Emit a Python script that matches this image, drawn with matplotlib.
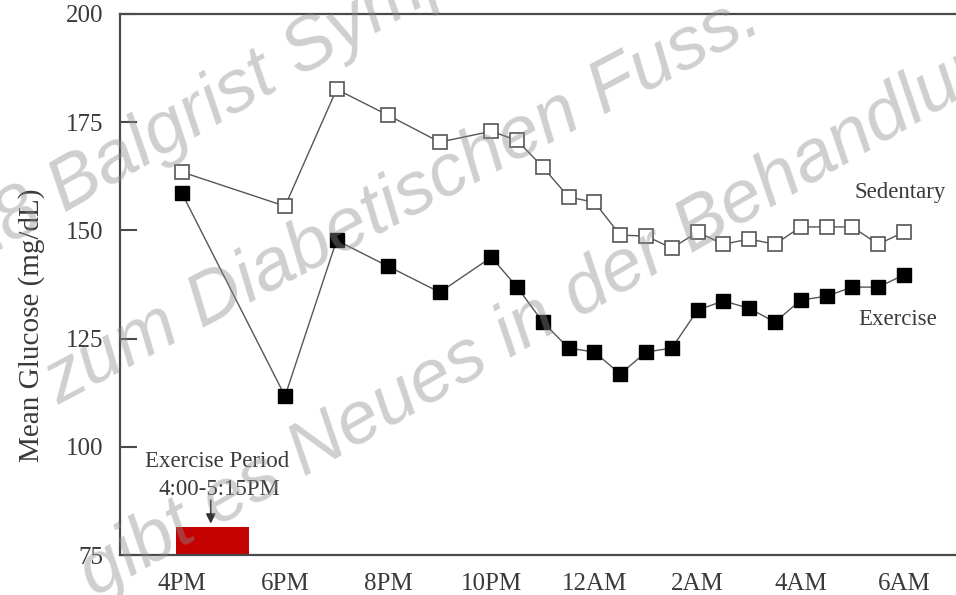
import matplotlib
matplotlib.use("Agg")
import matplotlib.pyplot as plt
from matplotlib.patches import Rectangle

# hours after 4PM
hours = [0, 2, 3, 4, 5, 6, 6.5, 7, 7.5, 8, 8.5, 9, 9.5, 10, 10.5, 11, 11.5, 12, 12.5, 13, 13.5, 14]
sedentary = [163.5, 155.6, 182.6, 176.6, 170.4, 172.9, 170.8, 164.6, 157.7, 156.5, 148.9, 148.7,
             145.9, 149.6, 146.8, 148.0, 146.8, 150.8, 150.8, 150.8, 146.8, 149.6]
exercise = [158.6, 111.7, 147.7, 141.7, 135.7, 143.8, 136.9, 128.8, 122.8, 121.9, 116.8, 121.9,
            122.8, 131.6, 133.7, 132.0, 128.8, 133.9, 134.8, 136.9, 136.9, 139.7]

tick_hours = [0, 2, 4, 6, 8, 10, 12, 14]
tick_labels = ["4PM", "6PM", "8PM", "10PM", "12AM", "2AM", "4AM", "6AM"]
y_ticks = [75, 100, 125, 150, 175, 200]

exercise_period = (0.0, 1.25)   # 4:00 - 5:15PM

watermark = ["2018 Balgrist Symposium",
             "zum Diabetischen Fuss.",
             "gibt es Neues in der Behandlung"]

plt.rcParams['font.family'] = ['Liberation Serif', 'DejaVu Serif']
txt = '#3a3a3a'
ax_col = '#4a4a4a'

fig = plt.figure(figsize=(9.56, 5.95), dpi=100)
ax = fig.add_axes([120 / 956, 1 - 555 / 595, 1 - 120 / 956, (555 - 14) / 595])

ax.plot(hours, sedentary, color='#555555', lw=1.0, marker='s', markersize=10,
        markerfacecolor='white', markeredgecolor='#555555', markeredgewidth=1.2, zorder=3)
ax.plot(hours, exercise, color='#555555', lw=1.0, marker='s', markersize=10,
        markerfacecolor='black', markeredgecolor='black', markeredgewidth=1.0, zorder=3)

ax.set_xlim(-1.2, 15.01)
ax.set_ylim(75, 200)
ax.set_xticks(tick_hours)
ax.set_xticklabels(tick_labels)
ax.set_yticks(y_ticks)
ax.tick_params(axis='x', length=0, pad=13, labelsize=18, labelcolor=txt)
ax.tick_params(axis='y', direction='in', length=12, width=1.5, color=ax_col,
               pad=12, labelsize=18, labelcolor=txt)
ax.spines['right'].set_visible(False)
for s in ['left', 'top', 'bottom']:
    ax.spines[s].set_color(ax_col)
    ax.spines[s].set_linewidth(1.6)

# exercise period box and note
ax.add_patch(Rectangle((exercise_period[0] - 0.12, 75), exercise_period[1] - exercise_period[0] + 0.17, 6.5,
                       facecolor='#c40000', edgecolor='none', zorder=2, clip_on=False))
ax.annotate('', xy=(0.56, 81.6), xytext=(0.56, 88.3),
            arrowprops=dict(arrowstyle='-|>', color='#333333', lw=1.2, mutation_scale=14))
ax.text(0.69, 95.3, 'Exercise Period', ha='center', va='baseline', fontsize=16.5, color=txt)
ax.text(0.73, 88.9, '4:00-5:15PM', ha='center', va='baseline', fontsize=16.5, color=txt)

ax.text(13.05, 158.8, 'Sedentary', ha='left', va='center', fontsize=16.5, color=txt)
ax.text(13.11, 129.3, 'Exercise', ha='left', va='center', fontsize=16.5, color=txt)

fig.text(32 / 956, 1 - 325 / 595, 'Mean Glucose (mg/dL)', rotation=90, ha='center', va='center',
         fontsize=21, color=txt)

# watermark
starts = [(-98, 307, 30), (58, 405, 28), (95, 598, 30)]
for line, (px, py, rot) in zip(watermark, starts):
    fig.text(px / 956, 1 - py / 595, line, rotation=rot, rotation_mode='anchor',
             ha='left', va='baseline', fontsize=54, family=['Liberation Sans'],
             style='italic', color='#8c8c8c', alpha=0.42, zorder=10)

fig.savefig('out.png', dpi=100)
